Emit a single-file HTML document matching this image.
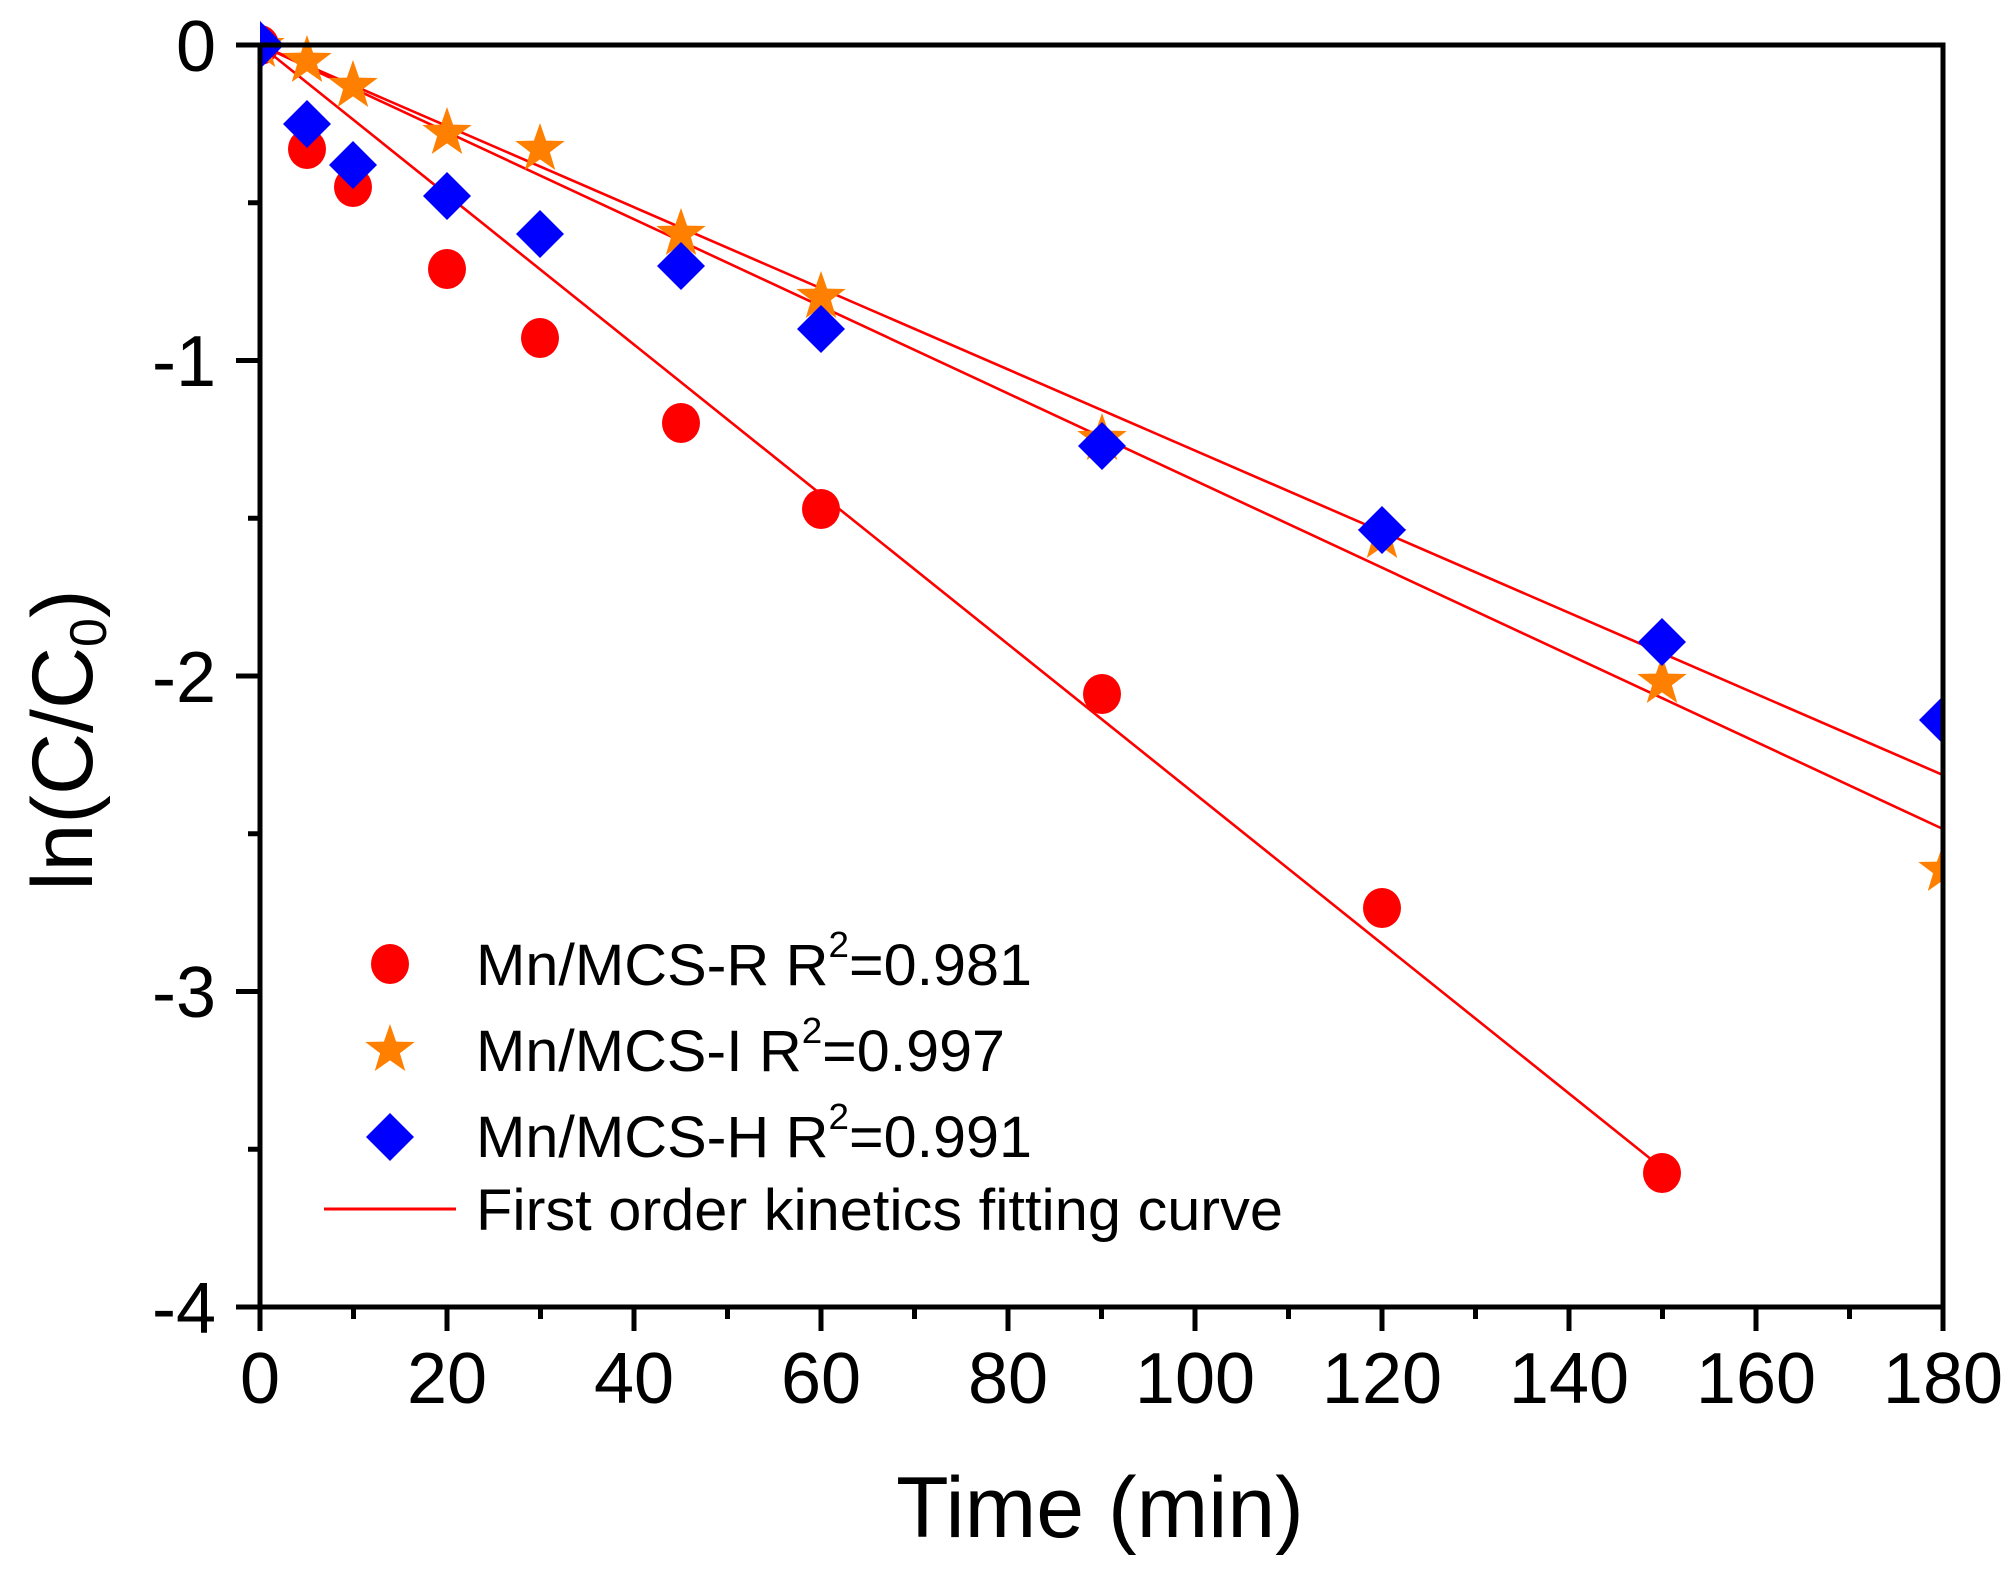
<!DOCTYPE html>
<html><head><meta charset="utf-8"><style>html,body{margin:0;padding:0;background:#fff}svg{display:block}</style></head>
<body>
<svg width="2016" height="1572" viewBox="0 0 2016 1572" xmlns="http://www.w3.org/2000/svg" font-family="Liberation Sans, Arial, sans-serif">
<defs>
<clipPath id="pc"><rect x="260" y="20" width="1683" height="1288"/></clipPath>
<symbol id="star" viewBox="-1 -1 2 2" overflow="visible"><polygon points="0,-1 0.235,-0.324 0.951,-0.309 0.38,0.124 0.588,0.809 0,0.4 -0.588,0.809 -0.38,0.124 -0.951,-0.309 -0.235,-0.324" fill="#ff8000"/></symbol>
</defs>
<g clip-path="url(#pc)">
<g stroke="#ff0000" stroke-width="2.6" fill="none">
<line x1="260" y1="45" x2="1662" y2="1168"/>
<line x1="260" y1="45" x2="1943" y2="829"/>
<line x1="260" y1="45" x2="1943" y2="775"/>
</g>
<g fill="#ff0000">
<ellipse cx="260" cy="45" rx="19" ry="20"/>
<ellipse cx="307" cy="149" rx="19" ry="20"/>
<ellipse cx="353" cy="187" rx="19" ry="20"/>
<ellipse cx="447" cy="269" rx="19" ry="20"/>
<ellipse cx="540" cy="338" rx="19" ry="20"/>
<ellipse cx="681" cy="423" rx="19" ry="20"/>
<ellipse cx="821" cy="509" rx="19" ry="20"/>
<ellipse cx="1102" cy="694" rx="19" ry="20"/>
<ellipse cx="1382" cy="908" rx="19" ry="20"/>
<ellipse cx="1662" cy="1173" rx="19" ry="20"/>
</g>
<g>
<use href="#star" x="234" y="20" width="52" height="52"/>
<use href="#star" x="281" y="35" width="52" height="52"/>
<use href="#star" x="327" y="60" width="52" height="52"/>
<use href="#star" x="421" y="107" width="52" height="52"/>
<use href="#star" x="514" y="123" width="52" height="52"/>
<use href="#star" x="655" y="208" width="52" height="52"/>
<use href="#star" x="795" y="271" width="52" height="52"/>
<use href="#star" x="1076" y="413" width="52" height="52"/>
<use href="#star" x="1356" y="511" width="52" height="52"/>
<use href="#star" x="1636" y="656" width="52" height="52"/>
<use href="#star" x="1917" y="844" width="52" height="52"/>
</g>
<g fill="#0000ff">
<polygon points="260,21 284,45 260,69 236,45"/>
<polygon points="307,100 331,124 307,148 283,124"/>
<polygon points="353,141 377,165 353,189 329,165"/>
<polygon points="447,172 471,196 447,220 423,196"/>
<polygon points="540,210 564,234 540,258 516,234"/>
<polygon points="681,242 705,266 681,290 657,266"/>
<polygon points="821,305 845,329 821,353 797,329"/>
<polygon points="1102,422 1126,446 1102,470 1078,446"/>
<polygon points="1382,506 1406,530 1382,554 1358,530"/>
<polygon points="1662,618 1686,642 1662,666 1638,642"/>
<polygon points="1943,696 1967,720 1943,744 1919,720"/>
</g>
</g>
<g stroke="#000" stroke-width="5" fill="none">
<rect x="260" y="45" width="1683" height="1262"/>
<path d="M260 1307v24M447 1307v24M634 1307v24M821 1307v24M1008 1307v24M1195 1307v24M1382 1307v24M1569 1307v24M1756 1307v24M1943 1307v24"/>
<path d="M353.5 1307v12M540.5 1307v12M727.5 1307v12M914.5 1307v12M1101.5 1307v12M1288.5 1307v12M1475.5 1307v12M1662.5 1307v12M1849.5 1307v12"/>
<path d="M260 45h-24M260 360.5h-24M260 676h-24M260 991.5h-24M260 1307h-24"/>
<path d="M260 202.75h-12M260 518.25h-12M260 833.75h-12M260 1149.25h-12"/>
</g>
<g font-size="72" fill="#000">
<g text-anchor="middle">
<text x="260" y="1403">0</text>
<text x="447" y="1403">20</text>
<text x="634" y="1403">40</text>
<text x="821" y="1403">60</text>
<text x="1008" y="1403">80</text>
<text x="1195" y="1403">100</text>
<text x="1382" y="1403">120</text>
<text x="1569" y="1403">140</text>
<text x="1756" y="1403">160</text>
<text x="1943" y="1403">180</text>
</g>
<g text-anchor="end">
<text x="216" y="71">0</text>
<text x="216" y="386">-1</text>
<text x="216" y="702">-2</text>
<text x="216" y="1017">-3</text>
<text x="216" y="1333">-4</text>
</g>
</g>
<text x="1100" y="1537" font-size="86" text-anchor="middle">Time (min)</text>
<text transform="translate(92,740) rotate(-90)" font-size="86" text-anchor="middle">ln(C/C<tspan font-size="52" dy="14">0</tspan><tspan dy="-14">)</tspan></text>
<ellipse cx="390" cy="964" rx="19" ry="20" fill="#ff0000"/>
<use href="#star" x="364" y="1024" width="52" height="52"/>
<polygon points="390,1113 414,1137 390,1161 366,1137" fill="#0000ff"/>
<line x1="324" y1="1209" x2="456" y2="1209" stroke="#ff0000" stroke-width="3"/>
<g font-size="58" fill="#000">
<text x="476" y="985" textLength="556" lengthAdjust="spacingAndGlyphs">Mn/MCS-R R<tspan font-size="36" dy="-28">2</tspan><tspan dy="28">=0.981</tspan></text>
<text x="476" y="1071" textLength="529" lengthAdjust="spacingAndGlyphs">Mn/MCS-I R<tspan font-size="36" dy="-28">2</tspan><tspan dy="28">=0.997</tspan></text>
<text x="476" y="1157" textLength="556" lengthAdjust="spacingAndGlyphs">Mn/MCS-H R<tspan font-size="36" dy="-28">2</tspan><tspan dy="28">=0.991</tspan></text>
<text x="476" y="1230" textLength="807" lengthAdjust="spacingAndGlyphs">First order kinetics fitting curve</text>
</g>
</svg>
</body></html>
